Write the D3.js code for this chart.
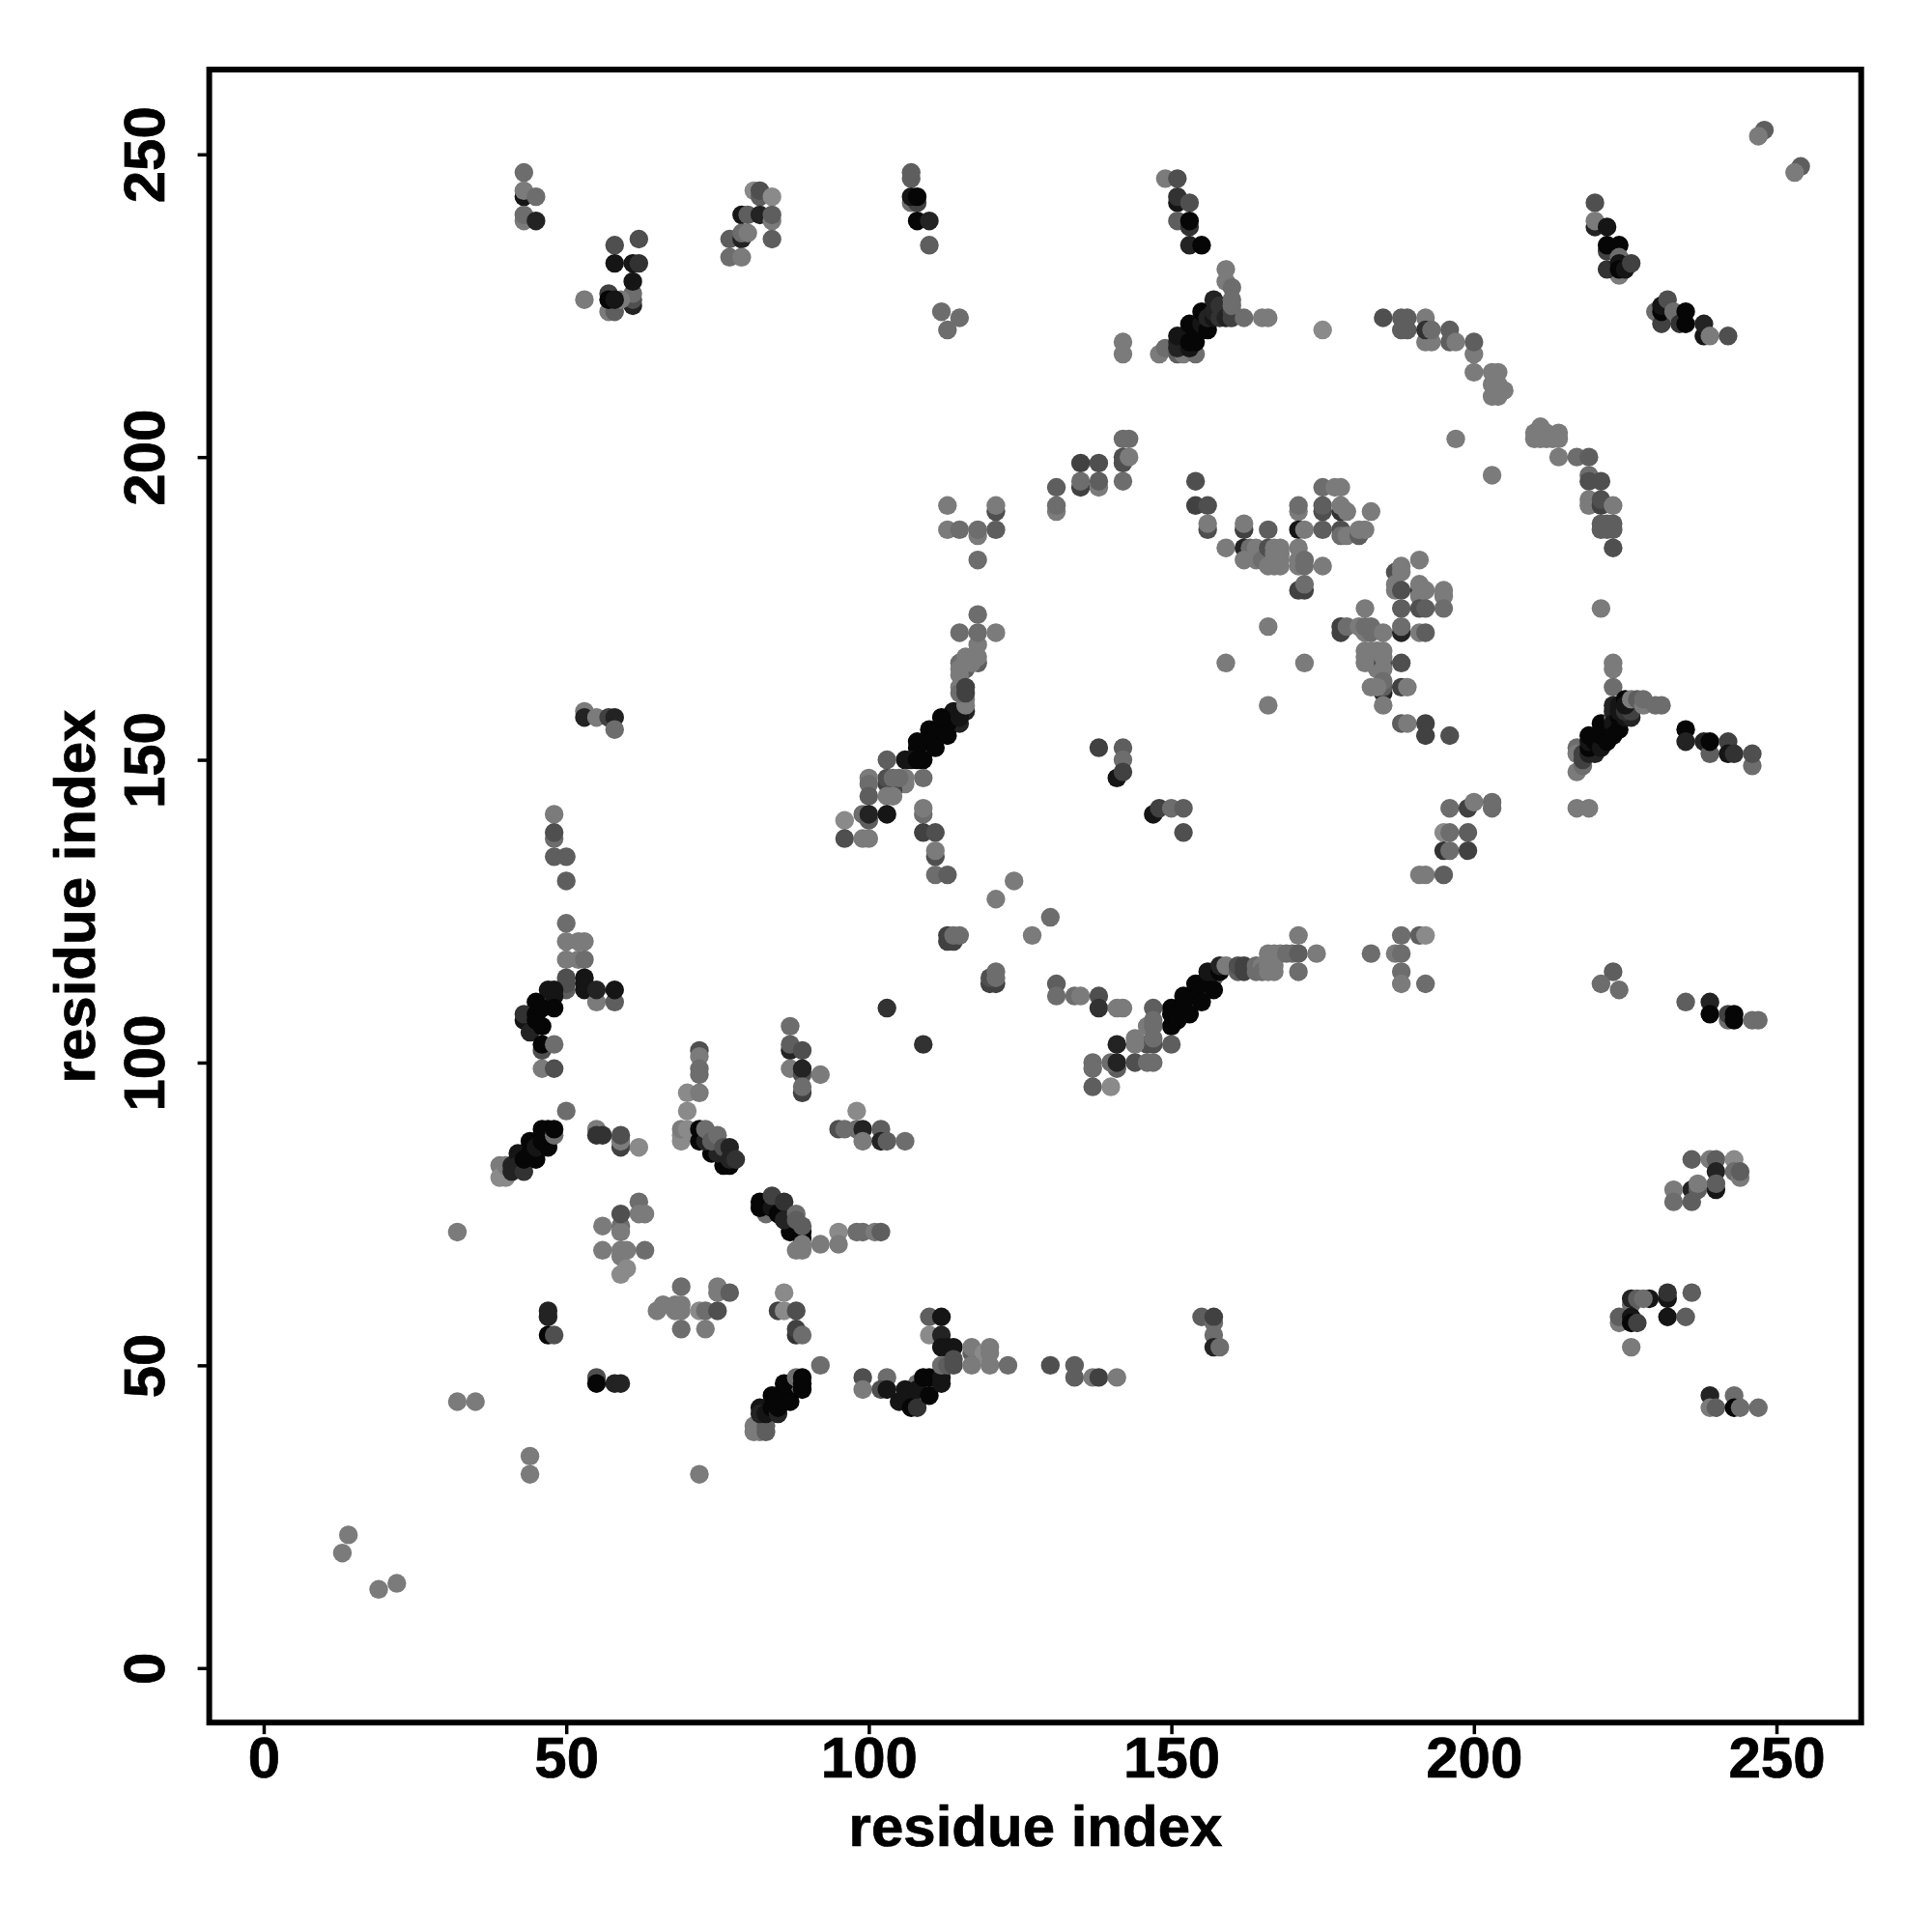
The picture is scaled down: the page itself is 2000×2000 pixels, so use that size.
<!DOCTYPE html>
<html><head><meta charset="utf-8"><script src="https://cdn.jsdelivr.net/npm/d3@7"></script>
<style>html,body{margin:0;background:#fff}svg{display:block}</style></head><body><div id="c"></div>
<script>
// each contact: [residue i, residue j, strength 0..9]
const ticks=[0,50,100,150,200,250];
const axisLabel="residue index";
const terminal=[[13,19,1],[14,22,1],[19,13,1],[22,14,1],[32,72,1],[32,44,1],[35,44,1],[44,35,1],[44,32,1],[72,32,1],[50,92,2]];
const strip40=[[39,83,1],[39,81,0],[40,82,0],[40,81,0],[40,83,1],[43,85,2],[45,87,2],[44,86,2],[41,83,7],[41,82,7],[42,85,8],[42,83,7],[43,82,6],[43,84,9],[44,87,9],[44,85,9],[45,84,9],[45,86,8],[46,89,9],[46,87,9],[47,86,9],[47,88,9],[47,89,9],[48,88,2],[48,89,9]];
const block55=[[55,89,1],[55,88,6],[56,88,6],[59,86,5],[59,87,1],[59,88,4],[62,86,0],[62,77,2],[63,75,1],[62,75,1],[59,73,2],[59,72,1],[59,75,4],[56,73,1],[56,69,1],[59,69,1],[60,69,1],[59,68,1],[60,66,0],[59,65,0],[63,69,2]];
const block65=[[69,63,2],[75,63,1],[75,62,1],[77,62,3],[65,59,1],[66,60,1],[68,59,1],[68,60,1],[69,59,1],[69,60,1],[69,56,2],[73,56,1],[72,59,0],[73,59,2],[75,59,4],[47,59,7],[47,58,7],[47,55,9],[48,55,4],[86,62,0],[85,59,5],[86,59,0],[88,59,4],[88,55,6],[88,56,5],[89,55,2],[55,48,4],[55,47,9],[58,47,7],[59,47,7]];
const strip70=[[69,88,0],[69,87,0],[69,89,1],[70,89,0],[70,92,0],[70,95,0],[72,95,1],[72,89,9],[72,87,9],[74,85,9],[76,83,9],[77,83,9],[73,87,7],[75,85,7],[73,89,2],[74,87,3],[75,88,2],[76,86,4],[77,86,7],[77,84,7],[78,84,6],[72,102,4],[72,101,1],[72,99,2],[72,98,2]];
const strip82=[[83,75,2],[85,76,2],[82,77,9],[82,76,9],[84,76,8],[85,75,9],[87,72,9],[87,73,9],[84,78,5],[86,77,6],[86,74,7],[88,75,2],[88,74,3],[89,71,9],[89,72,9],[89,73,3],[88,69,1],[89,69,1],[89,70,1]];
const strip82low=[[81,40,1],[81,39,1],[82,39,1],[83,39,3],[83,40,3],[85,45,2],[87,46,2],[86,44,2],[82,43,8],[82,42,7],[83,42,8],[84,43,9],[85,42,7],[85,43,9],[84,45,9],[86,45,9],[86,47,9],[87,44,9],[88,48,2],[89,46,9],[89,47,9],[89,48,9]];
const block87=[[87,106,2],[87,102,7],[87,103,3],[89,102,4],[87,99,1],[89,98,4],[89,99,7],[89,95,5],[89,96,2],[92,98,1],[98,92,0],[95,89,4],[96,89,2],[98,89,2],[99,89,7],[102,89,3],[99,87,1],[102,87,7],[103,87,3],[106,87,2],[95,72,0],[95,70,1],[92,70,1],[98,72,2],[99,72,2],[101,72,1],[102,72,3],[92,50,2],[103,109,6],[109,103,6]];
const strip105=[[99,48,4],[99,46,1],[103,48,2],[102,46,4],[103,46,8],[110,47,2],[108,47,2],[106,46,8],[105,44,8],[106,45,8],[107,45,8],[108,46,8],[107,43,9],[108,43,6],[109,48,9],[110,48,9],[110,45,9],[112,47,8],[112,48,8],[110,58,3],[112,58,8],[110,55,0],[112,55,7],[112,53,8],[113,53,8],[114,53,8]];
const row117=[[117,52,3],[117,53,1],[119,52,0],[120,52,1],[120,53,1],[112,50,2],[113,50,3],[114,51,4],[114,50,4],[117,50,1],[120,50,1],[123,50,2],[130,50,4],[134,50,3],[134,48,3],[137,48,1],[138,48,5],[141,48,1],[155,58,3],[157,57,2],[157,58,5],[157,55,2],[157,53,7],[158,53,2]];
const block48=[[48,141,1],[48,137,2],[48,138,4],[48,134,3],[50,134,3],[50,130,3],[50,123,2],[50,120,1],[52,120,1],[53,120,1],[50,117,1],[52,117,1],[53,117,2],[53,158,1],[53,157,7],[55,157,1],[57,157,5],[58,157,7],[58,155,2]];
const strip45=[[50,112,3],[50,113,4],[50,114,4],[53,114,8],[53,112,8],[53,113,8],[55,110,1],[58,110,3],[55,112,7],[58,112,8],[47,112,8],[48,112,8],[48,111,8],[48,109,9],[45,110,9],[46,109,9],[43,107,8],[43,108,6],[44,105,7],[45,108,9],[45,107,9],[46,106,9],[46,102,4],[46,103,9],[48,103,2],[46,99,1],[48,99,4]];
const strip115=[[118,174,2],[115,171,2],[118,169,1],[118,171,2],[121,171,1],[116,165,3],[115,166,2],[115,165,1],[115,164,1],[118,166,3],[116,167,1],[117,166,1],[118,167,1],[116,158,7],[115,156,7],[114,156,7],[113,156,9],[112,155,9],[114,158,8],[115,157,8],[112,157,9],[116,159,1],[116,160,1],[115,162,1],[115,161,2],[116,161,5],[116,162,5],[113,154,9],[111,154,9],[110,155,9],[110,153,9],[111,152,9],[108,153,9],[108,152,9],[109,150,9],[106,150,8],[107,150,8],[108,150,9]];
const block100=[[103,150,3],[109,147,2],[106,146,1],[106,147,1],[104,145,5],[103,146,5],[103,147,4],[105,147,2],[104,147,2],[100,147,1],[100,146,2],[100,144,3],[103,144,1],[104,144,1],[109,141,2],[109,142,1],[109,138,5],[111,138,4],[111,134,4],[111,135,1],[111,131,2],[113,131,3],[124,130,1],[121,127,1],[130,124,2],[127,121,1],[99,141,2],[100,140,3],[100,141,7],[103,141,8],[96,140,0],[96,137,4],[99,137,1],[100,137,1],[113,120,5],[114,120,5],[113,121,5],[114,121,2],[115,121,2],[120,113,5],[121,113,5],[120,114,4],[121,114,2],[121,115,2]];
const row131=[[131,113,3],[131,111,2],[134,111,2],[135,111,1],[138,111,4],[138,109,6],[141,109,1],[142,109,1],[138,152,5],[142,152,3],[142,150,2],[141,147,8],[142,148,5],[147,141,8],[148,142,5],[150,142,2],[152,142,3],[152,138,4],[166,172,1],[159,166,1],[166,159,1],[172,166,1]];
const strip150=[[153,110,2],[155,112,2],[157,114,2],[150,109,9],[150,108,9],[150,106,9],[151,108,9],[151,107,9],[152,111,9],[152,109,9],[153,108,9],[153,111,9],[154,113,9],[154,111,9],[155,113,9],[155,110,9],[156,113,9],[157,112,9],[156,115,8],[157,115,8],[158,115,9],[158,116,7],[159,116,1],[161,115,3],[161,116,4],[162,115,5],[162,116,5],[164,116,2],[164,115,2],[165,116,1],[165,115,2],[166,116,1],[166,115,1],[167,115,1],[167,116,1],[166,118,1],[167,117,1],[167,118,1],[168,118,1],[169,118,2],[170,118,2],[171,118,3],[171,121,1],[174,118,1],[171,115,2]];
const block137=[[188,121,2],[191,121,3],[192,121,0],[183,118,2],[187,118,1],[188,118,2],[188,115,2],[188,113,1],[192,113,2],[147,109,3],[146,106,1],[147,106,2],[147,107,2],[146,103,4],[147,103,4],[144,104,1],[144,103,1],[147,104,2],[150,103,3],[141,103,7],[137,100,2],[137,99,2],[141,99,3],[140,100,2],[141,100,7],[144,100,4],[146,100,2],[147,100,2],[137,96,3],[140,96,0]];
const block195=[[195,138,0],[196,138,2],[199,138,3],[195,135,6],[196,135,2],[199,135,5],[191,131,1],[192,131,1],[195,131,3],[196,142,2],[199,142,5],[200,143,1],[203,143,2],[203,142,2],[217,142,1],[219,142,1]];
const row195=[[142,203,2],[143,203,2],[142,199,4],[142,200,4],[143,200,1],[142,196,2],[135,199,5],[138,199,4],[135,195,5],[135,196,2],[138,195,1],[138,196,3],[131,195,3],[131,191,1],[131,192,2],[113,192,1],[121,191,4],[121,192,1],[113,188,1],[115,188,2],[118,187,1],[118,188,2],[121,188,3],[118,183,2]];
const block154=[[154,196,4],[154,192,5],[156,192,4],[156,188,4],[156,189,1],[162,188,5],[162,189,1],[166,188,3],[171,191,1],[171,192,2],[171,188,8],[172,188,1],[175,195,2],[177,195,1],[178,195,1],[175,191,4],[175,192,3],[178,191,6],[178,192,1],[179,191,1],[183,191,1],[175,188,3],[178,188,4],[178,187,2],[179,187,1],[181,187,3],[181,188,1],[182,188,1]];
const block167=[[159,185,1],[162,185,7],[163,185,2],[164,185,1],[162,183,1],[164,183,1],[165,183,2],[166,185,4],[166,182,1],[167,185,1],[168,185,1],[167,184,1],[168,184,1],[167,183,1],[168,183,1],[167,182,1],[168,182,1],[171,185,1],[171,183,1],[171,182,1],[172,183,2],[172,182,2],[175,182,1],[171,178,5],[172,178,5],[172,179,2]];
const block182=[[191,183,1],[187,181,4],[188,182,1],[188,181,1],[191,178,6],[191,179,1],[192,178,1],[187,179,1],[187,178,1],[188,178,4],[195,178,1],[195,177,1],[195,175,2],[188,175,3],[191,177,1],[191,175,4],[192,175,3],[182,175,1],[178,171,5],[178,172,5],[179,172,2],[181,172,1],[182,171,1],[182,172,2],[183,171,2],[183,172,2],[185,171,1],[188,171,7],[188,172,2],[191,171,1],[192,171,3]];
const block185=[[182,166,1],[183,166,1],[184,165,1],[182,167,1],[183,167,1],[182,168,1],[183,168,1],[184,168,1],[185,166,4],[185,165,1],[185,168,1],[185,167,1],[185,161,7],[185,162,3],[185,163,2],[185,159,1],[183,162,1],[184,162,1],[188,166,4],[188,162,5],[189,162,1],[188,156,3],[189,156,1],[192,156,5],[192,154,5],[196,154,4]];
const strip220=[[203,197,1],[219,197,2],[219,196,4],[221,196,4],[219,193,1],[219,192,1],[221,192,5],[221,193,4],[223,192,1],[221,189,3],[221,188,3],[222,189,3],[222,188,3],[223,189,3],[223,188,3],[223,185,4],[221,175,1],[214,200,1],[217,200,2],[219,200,3]];
const strip217=[[223,166,1],[223,165,1],[223,162,2],[217,152,2],[217,151,1],[217,148,1],[218,149,2],[218,151,5],[218,150,5],[219,151,7],[220,151,7],[219,152,9],[219,153,8],[219,154,9],[220,153,9],[221,152,8],[221,154,9],[221,156,9],[222,155,9],[222,153,9],[223,157,3],[223,159,7],[223,158,7],[223,156,8],[223,154,9],[224,155,9],[224,157,9],[224,158,8],[224,159,8],[225,157,8],[226,157,7],[225,158,6],[226,158,5],[225,160,9],[225,159,8],[226,160,1],[227,160,3],[228,159,1],[228,160,2],[230,159,2],[231,159,2]];
const block235=[[235,155,9],[235,153,7],[238,153,7],[239,151,3],[239,153,9],[242,153,5],[242,151,8],[243,151,6],[246,149,2],[246,151,4],[223,115,3],[221,113,2],[224,112,2],[235,110,3],[239,110,7],[239,108,9],[242,107,2],[242,108,5],[243,107,9],[243,108,9],[246,107,2],[247,107,2]];
const block236=[[236,84,3],[239,84,1],[240,84,3],[243,84,0],[240,82,7],[243,82,2],[244,81,1],[244,82,3],[240,79,8],[240,80,3],[236,79,7],[237,79,3],[237,80,1],[233,79,1],[233,77,2],[236,77,3],[232,61,8],[232,62,6],[236,62,3],[229,61,8],[226,60,2],[226,61,7],[227,61,3],[228,61,2],[224,57,1],[224,58,3],[226,58,8],[226,57,9],[227,57,5],[232,58,8],[235,58,3],[226,53,1],[239,45,7],[243,45,2],[239,43,1],[240,43,3],[243,43,9],[244,43,2],[247,43,2]];
const top43=[[43,247,2],[43,243,8],[43,244,1],[45,243,2],[43,239,1],[43,240,2],[45,239,7],[58,235,4],[62,236,4],[58,232,8],[61,232,8],[62,232,6],[61,225,7],[61,226,4],[61,227,2],[61,229,8],[53,226,1],[57,227,5],[57,224,1],[58,224,3],[59,226,1],[57,226,9],[58,226,8]];
const top80=[[81,244,0],[82,243,3],[82,244,4],[84,243,0],[79,240,8],[80,240,3],[82,240,7],[84,239,1],[84,240,3],[77,236,3],[79,236,7],[79,237,2],[80,237,1],[84,236,3],[77,233,2],[79,233,1],[107,246,3],[107,247,3],[107,242,2],[108,242,5],[107,243,8],[108,243,9],[108,239,9],[110,239,7],[110,235,3],[112,224,2],[115,223,2],[113,221,2]];
const top150=[[248,254,3],[247,253,1],[254,248,3],[253,247,1],[149,246,1],[151,246,4],[151,242,8],[151,243,6],[153,242,4],[151,239,3],[153,238,6],[153,239,9],[153,235,7],[155,235,9],[142,219,1],[142,217,1],[148,217,1],[149,218,2],[151,217,3],[152,217,1],[154,217,2],[151,219,7],[151,218,7],[151,220,8],[152,220,8],[153,218,8],[153,219,9],[154,219,9],[153,222,9],[154,221,9],[155,221,9],[155,222,8],[155,224,9],[156,221,9],[156,223,7],[157,223,8],[157,224,7],[157,226,7],[158,223,6],[158,225,6],[159,225,6],[159,224,6],[159,223,7],[160,224,5],[160,223,5],[159,231,1],[159,229,1],[160,228,2],[160,226,2],[160,225,2],[162,223,2],[165,223,1],[166,223,1],[175,221,0]];
const arc185=[[185,223,4],[188,223,3],[189,223,3],[188,221,3],[189,221,3],[192,223,1],[192,219,1],[193,219,1],[192,221,6],[193,221,2],[196,221,3],[196,219,3],[197,219,1],[200,217,1],[200,219,3],[200,214,1],[203,214,1],[204,214,1],[203,212,1],[204,212,1],[203,210,1],[204,210,1],[205,211,1],[197,203,1],[210,204,1],[210,203,1],[211,205,1],[211,204,1],[211,203,1],[212,204,1],[212,203,1],[213,203,1],[214,204,1],[214,203,1]];
const strip230=[[220,242,4],[220,238,7],[220,239,1],[222,238,8],[222,234,5],[222,235,9],[224,235,9],[224,230,1],[222,231,6],[224,233,2],[224,232,8],[224,231,9],[225,231,8],[226,232,5],[230,224,2],[231,222,5],[231,224,9],[231,225,8],[232,226,4],[233,224,2],[234,222,6],[235,224,9],[235,222,9],[238,220,8],[238,222,7],[239,220,1],[242,220,4]];

const contactGroups=[terminal,strip40,block55,block65,strip70,strip82,strip82low,block87,strip105,row117,block48,strip45,strip115,block100,row131,strip150,block137,block195,row195,block154,block167,block182,block185,strip220,strip217,block235,block236,top43,top80,top150,arc185,strip230];
const contacts=contactGroups.flat();

const width=2000,height=2000;
const x=d3.scaleLinear().domain([-9,264]).range([216.6,1926.7]);
const y=d3.scaleLinear().domain([-9,264]).range([1783.2,72]);
const shade=d3.scaleLinear().domain([0,9]).range(["#8a8a8a","#060606"]);
const font="'Liberation Sans',Arial,sans-serif";

const svg=d3.select("#c").append("svg").attr("width",width).attr("height",height);
svg.append("rect").attr("width",width).attr("height",height).attr("fill","#fff");

svg.append("g").selectAll("circle").data(contacts).join("circle")
  .attr("cx",d=>x(d[0])).attr("cy",d=>y(d[1])).attr("r",9.7)
  .attr("fill",d=>shade(d[2]));

svg.append("rect").attr("x",x.range()[0]).attr("y",y.range()[1])
  .attr("width",x.range()[1]-x.range()[0]).attr("height",y.range()[0]-y.range()[1])
  .attr("fill","none").attr("stroke","#000").attr("stroke-width",6);

const ax=svg.append("g").attr("transform",`translate(0,${y.range()[0]})`)
  .call(d3.axisBottom(x).tickValues(ticks).tickFormat(d3.format("d")).tickSizeInner(12).tickSizeOuter(0).tickPadding(3));
const ay=svg.append("g").attr("transform",`translate(${x.range()[0]},0)`)
  .call(d3.axisLeft(y).tickValues(ticks).tickFormat(d3.format("d")).tickSizeInner(12).tickSizeOuter(0));
[ax,ay].forEach(g=>{g.select(".domain").remove();g.selectAll("line").attr("stroke","#000").attr("stroke-width",3.5);
  g.selectAll("text").attr("font-family",font).attr("font-weight","bold").attr("font-size",60).attr("fill","#000").attr("stroke","#000").attr("stroke-width",0.7);});
ax.selectAll("text").attr("dy",null).attr("y",null).attr("transform","translate(0,57)");
ay.selectAll("text").attr("x",null).attr("dy",null).attr("text-anchor","middle").attr("transform","translate(-47,0) rotate(-90)");

svg.append("text").attr("x",1072).attr("y",1911).attr("text-anchor","middle")
  .attr("font-family",font).attr("font-weight","bold").attr("font-size",60).attr("stroke","#000").attr("stroke-width",0.7).text(axisLabel);
svg.append("text").attr("transform","translate(98,928) rotate(-90)").attr("text-anchor","middle")
  .attr("font-family",font).attr("font-weight","bold").attr("font-size",60).attr("stroke","#000").attr("stroke-width",0.7).text(axisLabel);
</script></body></html>
